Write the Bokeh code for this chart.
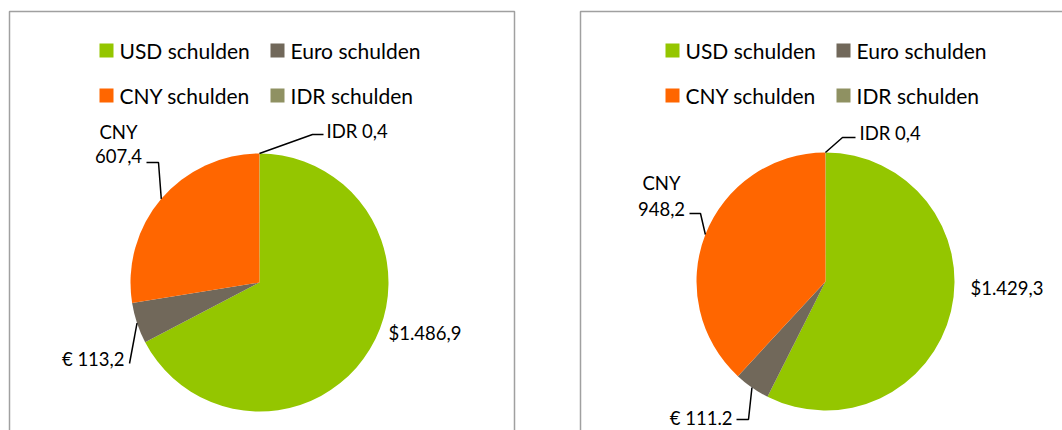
import math
from bokeh.plotting import figure
from bokeh.models import Range1d
from bokeh.core.properties import value
from bokeh.embed import file_html
from bokeh.resources import INLINE

# ---------------- data ----------------
categories = ["USD schulden", "Euro schulden", "CNY schulden", "IDR schulden"]
colors = ["#94C600", "#71685A", "#FF6600", "#8F9162"]
left_values = [1486.9, 113.2, 607.4, 0.4]
right_values = [1429.3, 111.2, 948.2, 0.4]
left_labels = ["$1.486,9", "€ 113,2", "CNY\n607,4", "IDR 0,4"]
right_labels = ["$1.429,3", "€ 111.2", "CNY\n948,2", "IDR 0,4"]

# ---------------- layout ----------------
W, H = 1062, 430
FONT = value("Lato")
LEG_SIZE = "21px"
LBL_SIZE = "18.5px"
R = 129

p = figure(width=W, height=H, output_backend="svg", toolbar_location=None,
           x_range=Range1d(0, W), y_range=Range1d(-H, 0),
           min_border=0, outline_line_color=None, background_fill_color="white")
p.xaxis.visible = False
p.yaxis.visible = False
p.grid.visible = False

# panel borders (pixel coords, y negated)
for (l, r) in [(9, 514), (580, 1120)]:
    p.quad(left=l, right=r, top=-11, bottom=-470, fill_color=None,
           line_color="#A0A0A0", line_width=1.5)

# label layout per panel
panels = [
    dict(cx=259, cy=282, values=left_values, labels=left_labels,
         lay=[
             dict(pos=[(388, 332)], align="left", pre=None, post=None),
             dict(pos=[(124, 358)], align="right", pre=[(129, 363)], post=None),
             dict(pos=[(118, 131), (118, 155)], align="center", pre=[(146, 162), (158, 162)], post=None),
             dict(pos=[(326, 130)], align="left", pre=None, post=[(312, 134), (323, 134)]),
         ]),
    dict(cx=825, cy=281, values=right_values, labels=right_labels,
         lay=[
             dict(pos=[(970, 287)], align="left", pre=None, post=None),
             dict(pos=[(732, 417)], align="right", pre=[(736, 419), (748, 419)], post=None),
             dict(pos=[(661, 182), (661, 208)], align="center", pre=[(689, 213), (700, 213)], post=None),
             dict(pos=[(859, 132)], align="left", pre=None, post=[(842, 137), (855, 137)]),
         ]),
]

for pn in panels:
    cx, cy = pn["cx"], pn["cy"]
    vals = pn["values"]
    total = sum(vals)
    theta = 0.0  # clockwise degrees from 12 o'clock
    starts, ends, mids = [], [], []
    for v in vals:
        t1 = theta
        t2 = theta + 360.0 * v / total
        starts.append(math.radians(90 - t2))
        ends.append(math.radians(90 - t1))
        mids.append((t1 + t2) / 2)
        theta = t2
    p.wedge(x=[cx] * len(vals), y=[-cy] * len(vals), radius=R,
            start_angle=starts, end_angle=ends,
            fill_color=colors, line_color=None)

    # legend (2x2)
    leg_rows = [(50, [0, 1]), (95, [2, 3])]
    for ry, idxs in leg_rows:
        for col, i in enumerate(idxs):
            sx = cx - 160 + col * 171
            p.rect(x=[sx + 7], y=[-ry], width=14, height=14,
                   fill_color=colors[i], line_color=None)
            p.text(x=[sx + 20], y=[-ry], text=[categories[i]], text_font=FONT,
                   text_font_size=LEG_SIZE, text_baseline="middle",
                   text_align="left", text_color="#000000")

    # data labels and leader lines
    for i, lay in enumerate(pn["lay"]):
        m = math.radians(mids[i])
        rx = cx + R * math.sin(m)
        ry = cy - R * math.cos(m)
        if lay["pre"] is not None or lay["post"] is not None:
            pts = (lay["pre"] or []) + [(rx, ry)] + (lay["post"] or [])
            p.line(x=[q[0] for q in pts], y=[-q[1] for q in pts],
                   line_color="#000000", line_width=1.5)
        lines = pn["labels"][i].split("\n")
        for (lx, ly), t in zip(lay["pos"], lines):
            p.text(x=[lx], y=[-ly], text=[t], text_font=FONT,
                   text_font_size=LBL_SIZE, text_baseline="middle",
                   text_align=lay["align"], text_color="#000000")

open("out.html", "w").write(file_html(p, INLINE))
